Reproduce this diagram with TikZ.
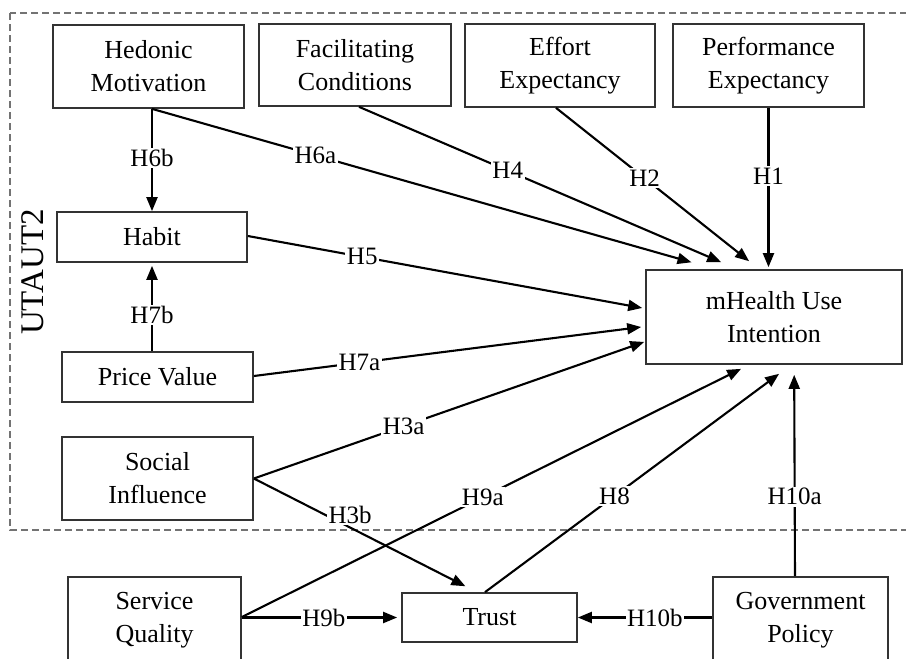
\documentclass[tikz,border=0pt]{standalone}
\usepackage{fontspec}
\setmainfont{Liberation Serif}
\usetikzlibrary{arrows.meta}
\tikzset{
  box/.style={draw=black!80, line width=1.7pt, inner sep=0pt, align=center,
    font=\fontsize{26}{33}\selectfont},
  lbl/.style={fill=white, inner sep=1.5pt, font=\fontsize{25}{30}\selectfont},
  link/.style={line width=2.1pt, -{Triangle[length=14pt,width=11pt]}},
}
\begin{document}
\begin{tikzpicture}[x=1pt,y=-1pt]
\useasboundingbox (0,0) rectangle (906,659);
\draw[black!55, line width=1.2pt, dash pattern=on 7pt off 4pt] (10,13) rectangle (915,530);
\node[rotate=90, font=\fontsize{33}{36}\selectfont] (ut) at (33,272) {UTAUT2};

\node[box, minimum width=191pt, minimum height=83pt] (hm) at (148.5,66.5) {Hedonic\\Motivation};
\node[box, minimum width=192pt, minimum height=82pt] (fc) at (355,65) {Facilitating\\Conditions};
\node[box, minimum width=190pt, minimum height=83pt] (ee) at (560,65.5) {Effort\\Expectancy};
\node[box, minimum width=191pt, minimum height=83pt] (pe) at (768.5,65.5) {Performance\\Expectancy};
\node[box, minimum width=190pt, minimum height=50pt] (hb) at (152,237) {Habit};
\node[box, minimum width=191pt, minimum height=50pt] (pv) at (157.5,377) {Price Value};
\node[box, minimum width=191pt, minimum height=83pt] (si) at (157.5,478.5) {Social\\Influence};
\node[box, minimum width=173pt, minimum height=86pt] (sq) at (154.5,620) {Service\\Quality};
\node[box, minimum width=175pt, minimum height=49pt] (tr) at (489.5,617.5) {Trust};
\node[box, minimum width=175pt, minimum height=86pt] (gp) at (800.5,620) {Government\\Policy};
\node[box, minimum width=256pt, minimum height=94pt] (mh) at (774,317) {mHealth Use\\Intention};

\draw[link, shorten >=25pt] ([xshift=3.5pt]hm.south) -- ([xshift=70.4pt]mh.north west) node[lbl, pos=0.29] {H6a};
\draw[link, shorten >=17.7pt] ([xshift=4pt]fc.south) -- ([xshift=92.3pt]mh.north west) node[lbl, pos=0.393] {H4};
\draw[link, shorten >=12.8pt] ([xshift=-4pt]ee.south) -- ([xshift=114pt]mh.north west) node[lbl, pos=0.436] {H2};
\draw[link, shorten >=2pt] (pe.south) -- (pe.south |- mh.north) node[lbl, pos=0.423] {H1};
\draw[link, shorten >=3pt] ([yshift=1pt]hb.east) -- ([yshift=8.5pt]mh.west) node[lbl, pos=0.288] {H5};
\draw[link, shorten >=4pt] ([yshift=1pt]pv.east) -- ([yshift=-9.5pt]mh.west) node[lbl, pos=0.27] {H7a};
\draw[link, shorten >=1pt] (si.east) -- ([yshift=-24.6pt]mh.west) node[lbl, pos=0.383] {H3a};
\draw[link, shorten >=13pt] (si.east) -- ([xshift=-12.5pt]tr.north) node[lbl, pos=0.4, xshift=7pt, yshift=9pt] {H3b};
\draw[link, shorten >=9pt] ([yshift=3pt]sq.east) -- ([xshift=104pt]mh.south west) node[lbl, pos=0.475] {H9a};
\draw[link, shorten >=15pt] ([xshift=-4.5pt]tr.north) -- ([xshift=146pt]mh.south west) node[lbl, pos=0.423] {H8};
\draw[link, shorten >=10pt] ([xshift=-5.5pt]gp.north) -- ([xshift=149pt]mh.south west) node[lbl, pos=0.376] {H10a};
\draw[link] ([xshift=3.5pt]hm.south) -- (hb.north) node[lbl, pos=0.48] {H6b};
\draw[link, shorten >=3pt] ([xshift=-5.5pt]pv.north) -- (hb.south) node[lbl, pos=0.41] {H7b};
\draw[link, shorten >=4pt] (sq.east |- tr.west) -- (tr.west) node[lbl, pos=0.515] {H9b};
\draw[link] (gp.west |- tr.east) -- (tr.east) node[lbl, pos=0.426] {H10b};
\end{tikzpicture}
\end{document}
